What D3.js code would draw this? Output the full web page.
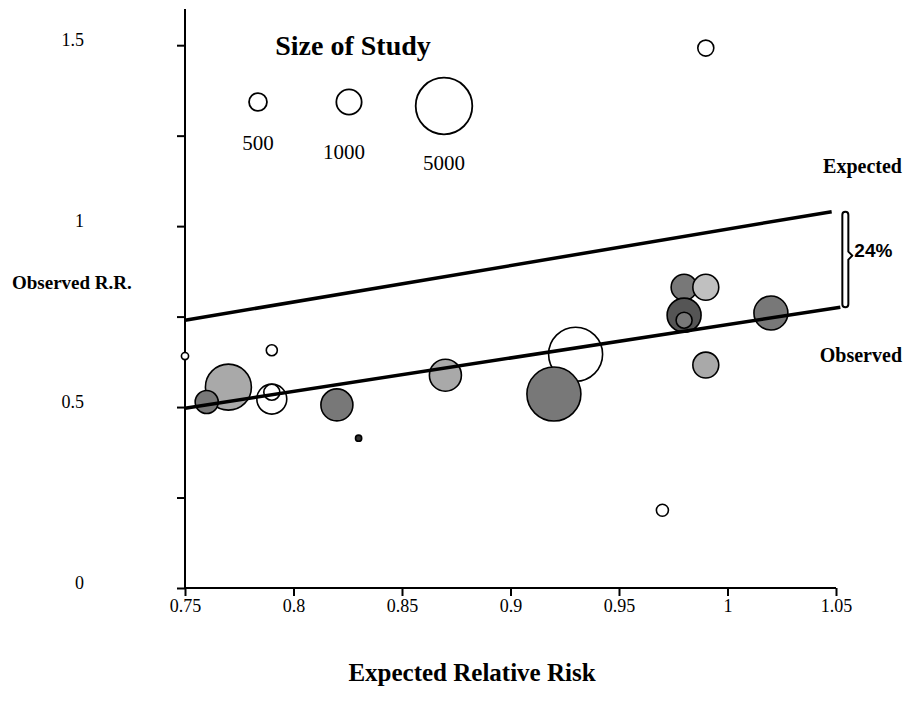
<!DOCTYPE html>
<svg width="904" height="713"></svg>
<script src="https://d3js.org/d3.v7.min.js"></script>

<style>

body { margin: 0; background: #fff; }

.tick_text {
  font: 18px "Liberation Serif", "Times New Roman", serif;
}

.bold_label {
  font: bold 20px "Liberation Serif", "Times New Roman", serif;
}

</style>

<script>

// expected relative risk (x), observed relative risk (y), study size, shade
var expectedRR = [0.93, 0.92, 0.77, 0.76, 0.79, 0.79, 0.79, 0.75, 0.82, 0.83, 0.87, 0.98, 0.99, 0.98, 0.98, 0.99, 1.02, 0.97, 0.99];
var observedRR = [0.646, 0.536, 0.555, 0.514, 0.522, 0.541, 0.657, 0.641, 0.506, 0.414, 0.588, 0.831, 0.831, 0.754, 0.74, 0.616, 0.76, 0.215, 1.492];
var studySize  = [4550, 4550, 3300, 830, 1400, 400, 190, 80, 1600, 60, 1600, 1050, 1050, 1800, 400, 1050, 1800, 225, 400];
var studyShade = ["#ffffff", "#787878", "#a9a9a9", "#787878", "#ffffff", "#ffffff", "#ffffff", "#ffffff", "#787878", "#333333", "#a9a9a9",
                  "#787878", "#c0c0c0", "#555555", "#787878", "#a9a9a9", "#787878", "#ffffff", "#ffffff"];

var xTicks = [0.75, 0.8, 0.85, 0.9, 0.95, 1, 1.05];
var yTicks = [0, 0.25, 0.5, 0.75, 1, 1.25, 1.5];
var yTickLabels = [0, 0.5, 1, 1.5];

var legendSizes = [500, 1000, 5000];

// fitted lines: [x, y] end points
var expectedLine = [[0.75, 0.74], [1.048, 1.04]];
var observedLine = [[0.75, 0.497], [1.052, 0.776]];
var gapLabel = "24%";

var svg = d3.select("svg");

var x = d3.scaleLinear()
    .domain([0.75, 1.05])
    .range([185, 836]);

var y = d3.scaleLinear()
    .domain([0, 1.6])
    .range([588, 9]);

var r = d3.scaleSqrt()
    .domain([0, 5000])
    .range([0, 28.3]);

// x axis
var xAxis = svg.append("g")
    .attr("transform", "translate(0," + y(0) + ")")
    .call(d3.axisBottom(x)
      .tickValues(xTicks)
      .tickSize(8)
      .tickPadding(3)
      .tickFormat(function(d) { return String(d); }));
xAxis.select(".domain").attr("stroke-width", 2).attr("d", "M" + x(0.75) + ",0H" + x(1.05));
xAxis.selectAll(".tick line").attr("stroke-width", 2);
xAxis.selectAll("text").attr("class", "tick_text").attr("fill", "#000");
xAxis.attr("font-size", null).attr("font-family", null);

// y axis
var yAxis = svg.append("g")
    .attr("transform", "translate(" + x(0.75) + ",0)")
    .call(d3.axisLeft(y)
      .tickValues(yTicks)
      .tickSize(8)
      .tickFormat(""));
yAxis.select(".domain").attr("stroke-width", 2).attr("d", "M0," + y(1.6) + "V" + y(0));
yAxis.selectAll(".tick line").attr("stroke-width", 2);

svg.append("g")
  .selectAll("text")
  .data(yTickLabels)
  .enter().append("text")
    .attr("class", "tick_text")
    .attr("x", 84)
    .attr("y", function(d) { return y(d); })
    .attr("dy", "0.05em")
    .attr("text-anchor", "end")
    .text(function(d) { return String(d); });

// bubbles
svg.append("g")
  .selectAll("circle")
  .data(expectedRR)
  .enter().append("circle")
    .attr("cx", function(d) { return x(d); })
    .attr("cy", function(d, i) { return y(observedRR[i]); })
    .attr("r", function(d, i) { return r(studySize[i]); })
    .attr("fill", function(d, i) { return studyShade[i]; })
    .attr("stroke", "#000")
    .attr("stroke-width", 1.6);

// lines
var line = d3.line()
    .x(function(d) { return x(d[0]); })
    .y(function(d) { return y(d[1]); });

[expectedLine, observedLine].forEach(function(pts) {
  svg.append("path")
      .datum(pts)
      .attr("fill", "none")
      .attr("stroke", "#000")
      .attr("stroke-width", 3.5)
      .attr("d", line);
});

// bracket between the two line ends
var bx = x(observedLine[1][0]) + 2,
    bTop = y(expectedLine[1][1]),
    bBot = y(observedLine[1][1]),
    bMid = bTop + (bBot - bTop) * 0.46;
svg.append("path")
    .attr("fill", "#fff")
    .attr("stroke", "#000")
    .attr("stroke-width", 2)
    .attr("stroke-linejoin", "round")
    .attr("d", "M" + bx + "," + (bTop + 3) +
               "Q" + bx + "," + bTop + " " + (bx + 3) + "," + bTop +
               "Q" + (bx + 6) + "," + bTop + " " + (bx + 6) + "," + (bTop + 3) +
               "V" + (bMid - 4) + "L" + (bx + 10) + "," + bMid + "L" + (bx + 6) + "," + (bMid + 4) +
               "V" + (bBot - 3) +
               "Q" + (bx + 6) + "," + bBot + " " + (bx + 3) + "," + bBot +
               "Q" + bx + "," + bBot + " " + bx + "," + (bBot - 3) + "Z");

svg.append("text")
    .attr("x", bx + 12)
    .attr("y", bMid)
    .attr("dy", "0.1em")
    .style("font", "bold 19px 'Liberation Sans', Arial, sans-serif")
    .text(gapLabel);

svg.append("text")
    .attr("class", "bold_label")
    .attr("x", 902)
    .attr("y", bTop - 39)
    .attr("text-anchor", "end")
    .text("Expected");

svg.append("text")
    .attr("class", "bold_label")
    .attr("x", 902)
    .attr("y", bBot + 55)
    .attr("text-anchor", "end")
    .text("Observed");

svg.append("text")
    .attr("x", 12)
    .attr("y", 289)
    .style("font", "bold 19px 'Liberation Serif', 'Times New Roman', serif")
    .text("Observed R.R.");

svg.append("text")
    .attr("x", 472)
    .attr("y", 681)
    .attr("text-anchor", "middle")
    .style("font", "bold 25px 'Liberation Serif', 'Times New Roman', serif")
    .text("Expected Relative Risk");

// size legend
var legend = svg.append("g");

legend.append("text")
    .attr("x", 353)
    .attr("y", 55)
    .attr("text-anchor", "middle")
    .style("font", "bold 28px 'Liberation Serif', 'Times New Roman', serif")
    .text("Size of Study");

var legendX = [258, 349, 444],
    legendY = [102, 102, 106],
    legendTextY = [150, 159, 170];

legend.selectAll("circle")
  .data(legendSizes)
  .enter().append("circle")
    .attr("cx", function(d, i) { return legendX[i]; })
    .attr("cy", function(d, i) { return legendY[i]; })
    .attr("r", function(d) { return r(d); })
    .attr("fill", "#fff")
    .attr("stroke", "#000")
    .attr("stroke-width", 1.8);

legend.selectAll(".legend_text")
  .data(legendSizes)
  .enter().append("text")
    .attr("class", "legend_text")
    .attr("x", function(d, i) { return legendX[i] - (i === 1 ? 5 : 0); })
    .attr("y", function(d, i) { return legendTextY[i]; })
    .attr("text-anchor", "middle")
    .style("font", "21px 'Liberation Serif', 'Times New Roman', serif")
    .text(function(d) { return String(d); });

</script>
